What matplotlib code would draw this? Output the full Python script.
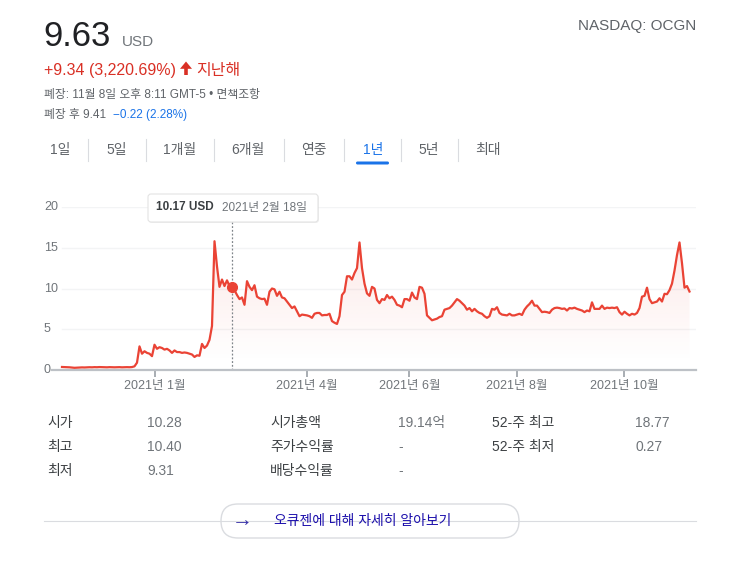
import numpy as np
import matplotlib
matplotlib.use('Agg')
import matplotlib.pyplot as plt
from matplotlib.patches import FancyBboxPatch, Polygon

plt.rcParams['font.family'] = ['Liberation Sans', 'Noto Sans CJK KR', 'DejaVu Sans']

# ---- data: daily closes (trading-day index, 2020-11-09 .. 2021-11-08) ----
prices = [
    0.37, 0.36, 0.35, 0.33, 0.30, 0.27, 0.29, 0.31, 0.32, 0.31,
    0.33, 0.34, 0.33, 0.35, 0.34, 0.36, 0.35, 0.34, 0.33, 0.35,
    0.34, 0.33, 0.34, 0.35, 0.33, 0.34, 0.35, 0.34, 0.36, 0.45,
    0.9, 2.9, 2.0, 2.3, 2.1, 2.0, 1.7, 3.1, 2.6, 2.8,
    2.7, 2.5, 2.6, 2.4, 2.1, 2.4, 2.2, 2.2, 2.1, 2.15,
    2.1, 2.0, 1.9, 1.6, 1.8, 1.75, 3.2, 2.7, 3.0, 3.7,
    5.4, 15.8, 12.7, 10.2, 11.1, 10.3, 11.0, 10.3, 10.17, 9.8,
    9.2, 8.7, 8.9, 8.0, 10.9, 10.2, 9.8, 10.4, 9.0, 8.8,
    8.7, 8.75, 8.0, 9.6, 10.0, 9.9, 9.1, 9.6, 8.9, 8.8,
    8.4, 8.0, 7.6, 7.8, 7.2, 6.6, 6.8, 6.75, 6.7, 6.6,
    6.4, 6.9, 7.0, 7.0, 6.7, 6.75, 6.75, 6.9, 6.0, 5.8,
    5.65, 6.6, 9.2, 9.6, 11.5, 11.5, 11.1, 11.9, 12.5, 15.65,
    12.5, 10.6, 9.4, 9.1, 10.2, 10.0, 8.6, 8.2, 8.7, 8.6,
    9.2, 8.8, 9.0, 8.6, 8.0, 7.9, 7.7, 8.7, 8.7, 8.5,
    9.5, 8.9, 8.7, 10.2, 10.1, 9.35, 6.7, 6.4, 6.1, 6.2,
    6.3, 6.5, 6.6, 7.4, 7.5, 7.6, 7.9, 8.3, 8.7, 8.5,
    8.2, 7.9, 7.4, 7.6, 7.2, 7.5, 7.2, 7.0, 6.9, 6.6,
    6.4, 6.6, 7.5, 7.4, 7.7, 7.0, 6.8, 6.75, 6.7, 6.9,
    6.7, 6.7, 6.8, 6.9, 6.75, 7.4, 7.8, 8.1, 8.5, 7.9,
    7.9, 7.5, 7.1, 7.15, 7.1, 7.0, 7.4, 7.6, 7.65, 7.6,
    7.5, 7.55, 7.3, 7.6, 7.55, 7.65, 7.5, 7.4, 7.3, 7.1,
    7.3, 7.2, 8.3, 7.5, 7.5, 7.5, 7.9, 7.5, 7.65, 7.6,
    7.65, 7.6, 7.7, 7.1, 6.8, 7.15, 6.9, 6.7, 6.9, 6.8,
    7.0, 7.6, 9.0, 9.1, 10.1, 8.7, 8.2, 8.3, 8.4, 8.8,
    8.4, 9.35, 9.3, 9.8, 10.6, 12.2, 14.1, 15.65, 13.1, 10.1,
    10.3, 9.63,
]
tick_idx = [37, 98, 139, 182, 225]
tick_labels = ['2021년 1월', '2021년 4월', '2021년 6월', '2021년 8월', '2021년 10월']
y_ticks = [0, 5, 10, 15, 20]
hover_idx = 68
hover_price = 10.17
hover_text = '10.17 USD'
hover_date = '2021년 2월 18일'

tabs = ['1일', '5일', '1개월', '6개월', '연중', '1년', '5년', '최대']
selected_tab = '1년'

stats_labels = [['시가', '최고', '최저'], ['시가총액', '주가수익률', '배당수익률'], ['52-주 최고', '52-주 최저']]
stats_values = [['10.28', '10.40', '9.31'], ['19.14억', '-', '-'], ['18.77', '0.27']]

W, H = 754, 564
RED_LINE = '#ea4335'
RED_TXT = '#d93025'
GRAY = '#70757a'
GRAY2 = '#5f6368'

fig = plt.figure(figsize=(W / 100, H / 100), dpi=100)
fig.patch.set_facecolor('white')


def px_rect(l, t, r, b):
    return [l / W, 1 - b / H, (r - l) / W, (b - t) / H]


# ---------------- chart ----------------
ax = fig.add_axes(px_rect(52, 207, 696, 370))
ax.patch.set_visible(False)
x = np.arange(len(prices))
for s in ax.spines.values():
    s.set_visible(False)

for yv in y_ticks[1:]:
    ax.axhline(yv, xmin=10 / 644, xmax=1, color='#f3f4f5', lw=1, zorder=0)

poly = ax.fill_between(x, prices, 0, color='none', lw=0)
yy = np.linspace(0, 20, 256)
rgba = np.zeros((256, 1, 4))
rgba[..., 0] = 234 / 255
rgba[..., 1] = 67 / 255
rgba[..., 2] = 53 / 255
rgba[..., 3] = (np.clip((yy - 1.0) / 15.0, 0, 1) * 0.12)[:, None]
im = ax.imshow(rgba, extent=[0, len(prices) - 1, 0, 20], origin='lower',
               aspect='auto', zorder=1, interpolation='bilinear')
im.set_clip_path(poly.get_paths()[0], transform=ax.transData)

ax.plot(x, prices, color=RED_LINE, lw=1.6, zorder=4, solid_joinstyle='round')
ax.vlines(hover_idx, 0, 18.2, colors='#80868b', linestyles=(0, (1.5, 1.5)), lw=0.9, zorder=3)
ax.plot([hover_idx], [hover_price], 'o', ms=7, color=RED_LINE, zorder=5)

ax.axhline(0, color='#bdc1c6', lw=1.6, zorder=3, clip_on=False)

ax.set_xlim(-4, 253.6)
ax.set_ylim(0, 20)
ax.set_yticks([])
ax.set_xticks(tick_idx, tick_labels)
ax.tick_params(axis='x', length=5, width=1.2, color='#9aa0a6', labelsize=9,
               labelcolor=GRAY, pad=2)
ytr = ax.get_yaxis_transform()
for v in y_ticks:
    ax.text(-8 / 644, v, str(v), transform=ytr, ha='left', va='center',
            fontsize=9, color=GRAY, clip_on=False)

# ---------------- overlay (pixel coordinates) ----------------
ov = fig.add_axes([0, 0, 1, 1], zorder=5)
ov.set_xlim(0, W)
ov.set_ylim(H, 0)
ov.axis('off')
ov.patch.set_alpha(0)

ov.text(43, 46, '9.63', fontsize=25, color='#202124', va='baseline')
ov.text(122, 46, 'USD', fontsize=11, color=GRAY, va='baseline')
ov.text(696, 26, 'NASDAQ: OCGN', fontsize=11, color=GRAY2, ha='right', va='center')

ov.text(44, 75, '+9.34 (3,220.69%)', fontsize=11.5, color=RED_TXT, va='baseline')
ov.add_patch(Polygon([(186, 61.5), (180, 68.8), (184.2, 68.8), (184.2, 75),
                      (187.8, 75), (187.8, 68.8), (192, 68.8)],
                     closed=True, fc=RED_TXT, ec='none'))
ov.text(196, 75, '지난해', fontsize=11.5, color=RED_TXT, va='baseline')

ov.text(44, 95, '폐장: 11월 8일 오후 8:11 GMT-5 • 면책조항', fontsize=8.5, color=GRAY2, va='center')
ov.text(44, 115, '폐장 후 9.41', fontsize=8.5, color=GRAY2, va='center')
ov.text(113, 115, '−0.22 (2.28%)', fontsize=8.5, color='#1a73e8', va='center')

tab_cx = [60, 117, 180, 248, 314, 373, 429, 488]
for cx, t in zip(tab_cx, tabs):
    ov.text(cx, 150, t, fontsize=10, ha='center', va='center',
            color='#1a73e8' if t == selected_tab else GRAY2)
for sx in [88, 146, 214, 284, 344, 401, 458]:
    ov.plot([sx, sx], [139, 161], color='#dadce0', lw=0.8)
ov.add_patch(FancyBboxPatch((356, 161.5), 33, 3, boxstyle='round,pad=0,rounding_size=1.5',
                            fc='#1a73e8', ec='none'))

# tooltip
ov.add_patch(FancyBboxPatch((149, 195), 170, 28, boxstyle='round,pad=0,rounding_size=3',
                            fc='#000000', ec='none', alpha=0.06))
ov.add_patch(FancyBboxPatch((148, 194), 170, 28, boxstyle='round,pad=0,rounding_size=3',
                            fc='white', ec='#e3e3e3', lw=0.8))
ov.text(156, 207.5, hover_text, fontsize=8.5, fontweight='bold', color='#3c4043', va='center')
ov.text(222, 207.5, hover_date, fontsize=8.5, color=GRAY, va='center')

# stats table
col_lx = [47, 270, 492]
col_vx = [147, 398, 635]
row_y = [423, 447, 471]
for c in range(3):
    for r, (lab, val) in enumerate(zip(stats_labels[c], stats_values[c])):
        ov.text(col_lx[c], row_y[r], lab, fontsize=10, color='#3c4043', va='center')
        ov.text(col_vx[c], row_y[r], val, fontsize=10, color=GRAY, va='center')

# bottom button
ov.plot([44, 696], [521, 521], color='#dadce0', lw=0.8)
ov.add_patch(FancyBboxPatch((221, 504), 298, 34, boxstyle='round,pad=0,rounding_size=17',
                            fc='white', ec='#dadce0', lw=1))
ov.text(242, 520.5, '→', fontsize=15, fontweight='bold', color='#3730a8', ha='center', va='center')
ov.text(274, 521.5, '오큐젠에 대해 자세히 알아보기', fontsize=10, color='#1a0dab', va='center')

fig.savefig('out.png', dpi=100, facecolor='white')
